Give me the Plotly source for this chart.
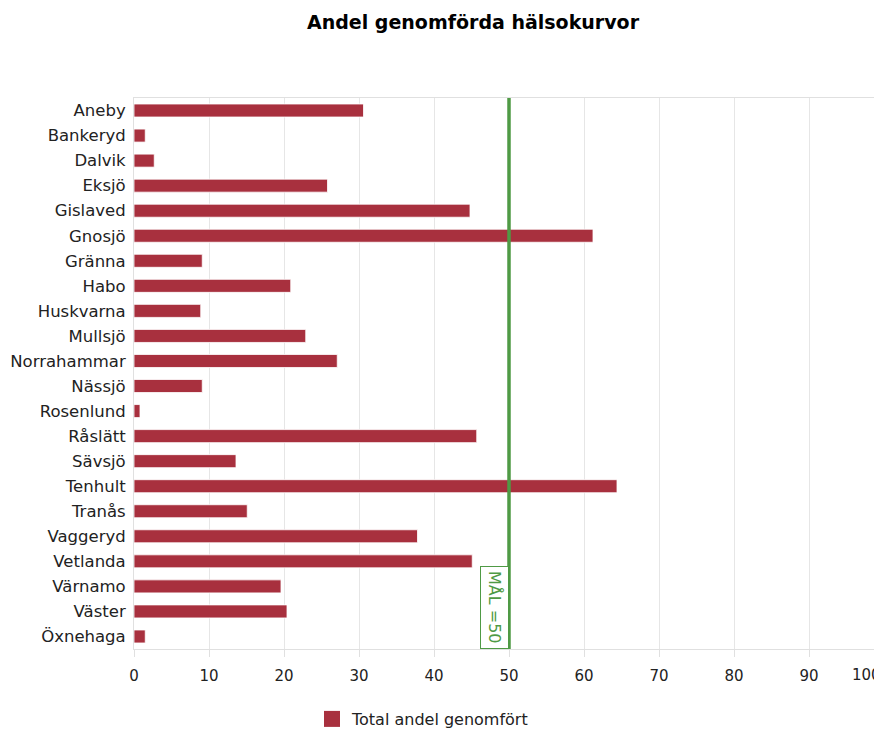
import plotly.graph_objects as go

categories = ["Aneby", "Bankeryd", "Dalvik", "Eksjö", "Gislaved", "Gnosjö", "Gränna",
              "Habo", "Huskvarna", "Mullsjö", "Norrahammar", "Nässjö", "Rosenlund",
              "Råslätt", "Sävsjö", "Tenhult", "Tranås", "Vaggeryd", "Vetlanda",
              "Värnamo", "Väster", "Öxnehaga"]
values = [30.6, 1.5, 2.7, 25.8, 44.8, 61.2, 9.1,
          20.9, 8.9, 22.9, 27.1, 9.1, 0.8,
          45.7, 13.6, 64.4, 15.1, 37.8, 45.1,
          19.6, 20.4, 1.5]
series_name = "Total andel genomfört"
goal_value = 50
goal_label = "MÅL =50"
x_ticks = [0, 10, 20, 30, 40, 50, 60, 70, 80, 90, 100]
x_tick_labels = [str(v) for v in x_ticks]

BAR = "#a8303e"
GREEN = "#4f9a45"
FONT = "DejaVu Sans"
TICK_COLOR = "#222222"

W, H = 876, 721
L, T, B = 126, 90, 80
PW = W - L

# last tick label is justified inside the chart edge (as in the original)
shown_labels = x_tick_labels[:-1] + [""]

fig = go.Figure()
fig.add_trace(go.Bar(
    y=categories, x=values, orientation="h",
    marker=dict(color=BAR, line=dict(color="rgba(255,255,255,0.8)", width=1)),
    showlegend=False, name=series_name,
))
fig.add_trace(go.Scatter(
    x=[None], y=[None], mode="markers", name=series_name,
    marker=dict(symbol="square", size=18, color=BAR),
))

fig.add_shape(type="line", xref="x", yref="paper", x0=goal_value, x1=goal_value,
              y0=0, y1=1, line=dict(color=GREEN, width=3.5), layer="above")
fig.add_annotation(x=goal_value, xref="x", y=0, yref="paper", xanchor="right",
                   yanchor="bottom", text=goal_label, textangle=90, showarrow=False,
                   font=dict(family=FONT, size=16, color=GREEN),
                   bordercolor=GREEN, borderwidth=1, borderpad=4, bgcolor="white")
fig.add_annotation(x=(875 - L) / PW, xref="paper", y=0, yref="paper", xanchor="right",
                   yanchor="middle", yshift=-26, text=x_tick_labels[-1], showarrow=False,
                   font=dict(family=FONT, size=15, color=TICK_COLOR))

fig.update_layout(
    width=W, height=H,
    margin=dict(l=L, r=0, t=T, b=B, autoexpand=False),
    paper_bgcolor="white", plot_bgcolor="white",
    title=dict(text="<b>Andel genomförda hälsokurvor</b>", x=465 / W, xanchor="center",
               xref="container", y=1 - 14 / H, yref="container", yanchor="middle",
               font=dict(family=FONT, size=19, color="#000000")),
    bargap=0.48,
    showlegend=True,
    legend=dict(orientation="h", x=(304 - L) / PW, xanchor="left",
                y=1 - 711 / H, yref="container", yanchor="middle",
                font=dict(family=FONT, size=16, color=TICK_COLOR),
                bgcolor="rgba(0,0,0,0)"),
    xaxis=dict(range=[0, 100], tickvals=x_ticks, ticktext=shown_labels,
               showgrid=True, gridcolor="#e6e6e6",
               gridwidth=1, zeroline=False, showline=True, linecolor="#e0e0e0",
               mirror=True, ticks="outside", ticklen=7, tickcolor="#e0e0e0",
               ticklabelstandoff=6, automargin=False,
               tickfont=dict(family=FONT, size=15, color=TICK_COLOR)),
    yaxis=dict(autorange="reversed", showgrid=False, zeroline=False, showline=True,
               linecolor="#e0e0e0", ticks="", ticklabelstandoff=4, automargin=False,
               tickfont=dict(family=FONT, size=16.5, color=TICK_COLOR)),
)

fig.write_html("out.html")
